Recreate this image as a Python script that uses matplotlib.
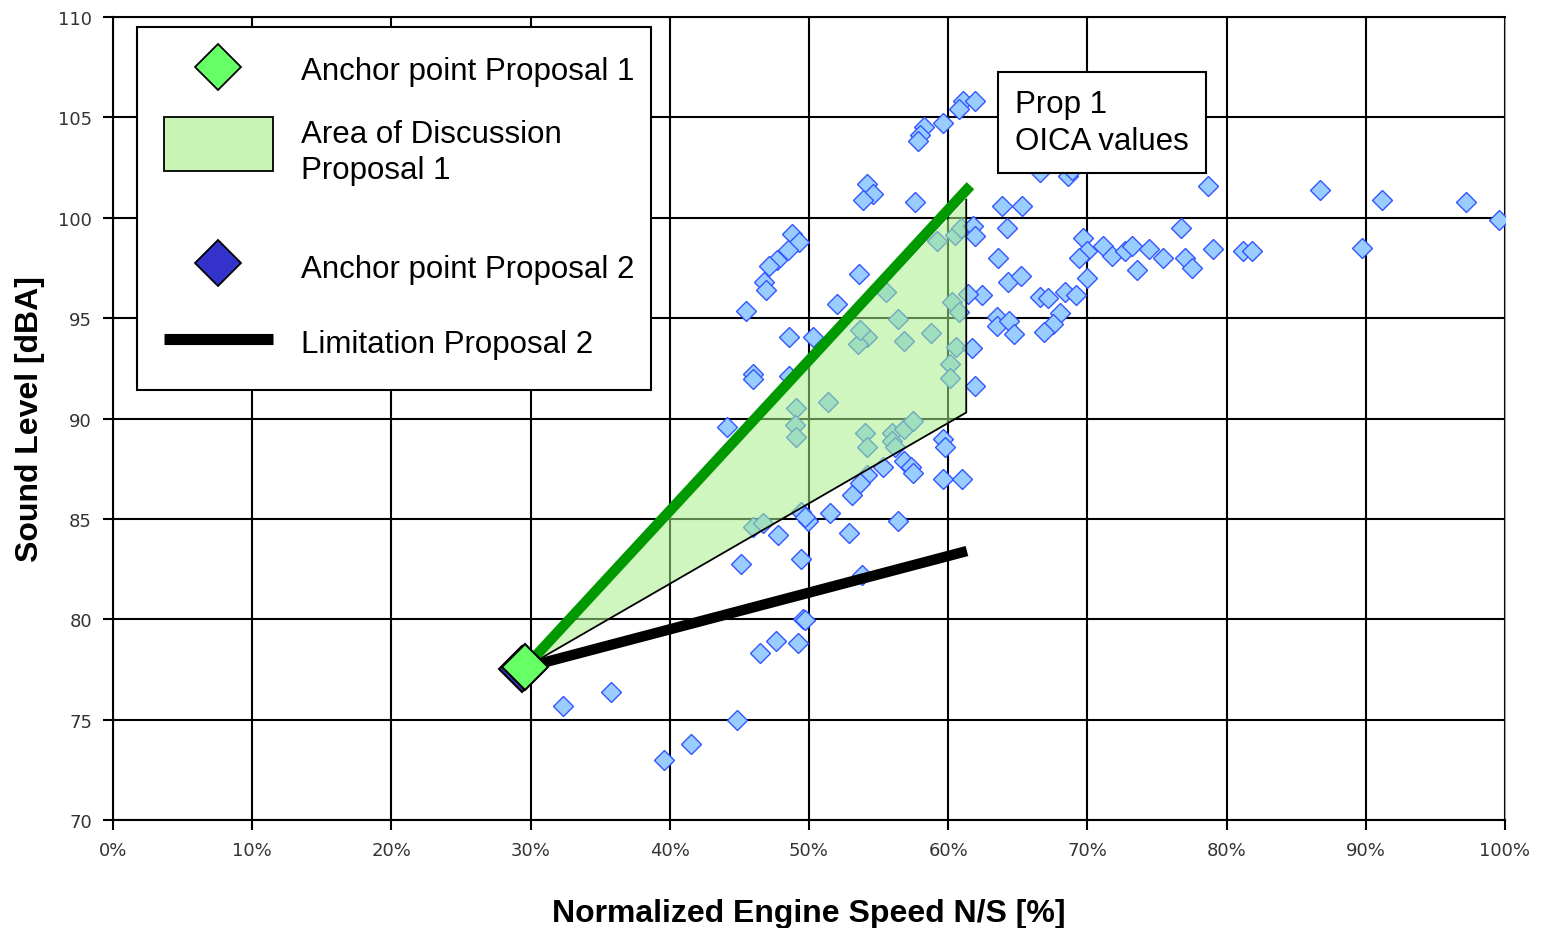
import matplotlib
matplotlib.use("Agg")
import matplotlib.pyplot as plt
from matplotlib.patches import Polygon, Rectangle
from matplotlib.lines import Line2D
from matplotlib.ticker import FuncFormatter

plt.rcParams['font.family'] = ['Liberation Sans', 'DejaVu Sans']

# measured vehicles: normalized engine speed [%] and sound level [dBA]
speed = [32.3, 35.8, 39.6, 41.5, 44.8, 46.5, 47.6, 49.2, 49.6, 49.7, 49.4, 45.1,
         47.8, 52.9, 56.4, 51.5, 49.9, 49.4, 49.7, 46.0, 46.7, 53.8,
         48.6, 50.3, 46.0, 46.0, 48.6, 44.1, 49.1, 49.0, 49.1, 51.4, 54.0, 54.2,
         56.0, 56.8, 57.5, 56.0, 56.2, 56.8, 57.3, 57.5, 55.3, 54.2, 53.7, 53.1,
         59.6, 59.8, 59.6, 61.0, 61.9, 60.1, 60.1, 60.6, 61.7, 58.8, 56.8, 54.2,
         53.5, 53.7,
         61.1, 61.9, 60.8, 59.6, 58.3, 58.0, 57.8, 54.2, 54.6, 53.9, 57.6, 48.8,
         49.3, 48.5, 47.7, 47.1, 46.8, 46.9, 45.5, 52.0, 53.6, 55.5, 56.4, 59.2,
         60.5, 60.9, 61.8, 61.9, 63.9, 63.6, 62.4, 61.4, 60.3, 60.8, 63.5, 63.5,
         78.7, 65.3, 64.2, 64.3, 65.2, 69.7, 70.0, 69.4, 71.1, 71.8, 72.7, 73.2,
         74.4, 73.6, 75.4, 76.7, 77.0, 77.5, 79.0, 81.2, 81.8, 70.0, 66.6, 67.2,
         68.4, 69.2, 64.4, 64.7, 68.0, 67.5, 66.9, 66.6, 68.6, 68.9, 86.7, 91.2,
         97.2, 99.6, 89.7]
level = [75.7, 76.4, 73.0, 73.8, 75.0, 78.3, 78.9, 78.8, 80.0, 79.95, 83.0, 82.75,
         84.2, 84.3, 84.9, 85.3, 84.9, 85.35, 85.1, 84.6, 84.8, 82.2,
         94.05, 94.05, 92.2, 91.97, 92.1, 89.6, 90.5, 89.7, 89.1, 90.8, 89.3, 88.6,
         89.3, 89.5, 89.9, 88.9, 88.6, 87.9, 87.6, 87.3, 87.6, 87.2, 86.8, 86.2,
         89.0, 88.6, 87.0, 87.0, 91.6, 92.7, 92.0, 93.55, 93.5, 94.25, 93.85, 94.05,
         93.7, 94.4,
         105.8, 105.8, 105.4, 104.7, 104.5, 104.1, 103.8, 101.7, 101.2, 100.9, 100.8, 99.2,
         98.8, 98.4, 97.9, 97.6, 96.8, 96.4, 95.35, 95.7, 97.2, 96.3, 94.95, 98.85,
         99.15, 99.5, 99.6, 99.1, 100.6, 98.0, 96.15, 96.2, 95.8, 95.3, 95.05, 94.6,
         101.6, 100.6, 99.5, 96.8, 97.1, 99.0, 98.35, 98.0, 98.6, 98.1, 98.35, 98.6,
         98.45, 97.4, 98.0, 99.5, 98.0, 97.5, 98.45, 98.35, 98.35, 97.0, 96.05, 96.0,
         96.3, 96.15, 94.85, 94.2, 95.25, 94.7, 94.3, 102.3, 102.1, 102.4, 101.4, 100.9,
         100.8, 99.9, 98.5]

anchor1 = (29.6, 77.6)
anchor2 = (29.4, 77.5)
area_x = [29.6, 61.3, 61.3, 29.6]
area_y = [77.6, 100.9, 90.3, 77.6]
prop1_line_x = [29.6, 61.6]
prop1_line_y = [77.6, 101.6]
limit2_x = [29.6, 61.35]
limit2_y = [77.6, 83.4]

fig = plt.figure(figsize=(15.41, 9.29), dpi=100)
ax = fig.add_axes([0.0733, 0.1162, 0.9033, 0.8644])

ax.set_xlim(0, 100)
ax.set_ylim(70, 110)
ax.set_xticks(range(0, 101, 10))
ax.set_yticks(range(70, 111, 5))
ax.xaxis.set_major_formatter(FuncFormatter(lambda v, p: "{:d}%".format(int(v))))
ax.grid(True, color='black', linewidth=1.5)
ax.set_axisbelow(True)
for side in ['left', 'bottom', 'top']:
    ax.spines[side].set_color('black')
    ax.spines[side].set_linewidth(1.5)
ax.spines['right'].set_color('#a0a0a0')
ax.tick_params(direction='out', length=7, width=1.5, labelsize=13,
               labelcolor='#333333', pad=8)
for lab in ax.get_xticklabels() + ax.get_yticklabels():
    lab.set_family('DejaVu Sans')

ax.plot(speed, level, linestyle='none', marker='D', markersize=10,
        markerfacecolor='#99ccff', markeredgecolor='#3355ff', markeredgewidth=1, zorder=3)

area = Polygon(list(zip(area_x, area_y)), closed=True, facecolor='#a6f08a',
               alpha=0.55, edgecolor='none', zorder=4)
ax.add_patch(area)
ax.plot(area_x[1:], area_y[1:], color='black', linewidth=1.3, zorder=5)

ax.plot(prop1_line_x, prop1_line_y, color='#009900', linewidth=7.5,
        solid_capstyle='butt', zorder=6)
ax.plot(limit2_x, limit2_y, color='black', linewidth=7.5,
        solid_capstyle='butt', zorder=6)

ax.plot(*anchor2, marker='D', markersize=23, markerfacecolor='#3333cc',
        markeredgecolor='black', markeredgewidth=1.5, zorder=7)
ax.plot(*anchor1, marker='D', markersize=23, markerfacecolor='#66ff66',
        markeredgecolor='black', markeredgewidth=1.5, zorder=8)

ax.set_xlabel('Normalized Engine Speed N/S [%]', fontsize=23, fontweight='bold', labelpad=28)
ax.set_ylabel('Sound Level [dBA]', fontsize=23, fontweight='bold', labelpad=9)

# legend drawn by hand to keep the uneven row spacing of the original
tr = ax.transAxes
ax.add_patch(Rectangle((0.0172, 0.5355), 0.3693, 0.452, transform=tr, facecolor='white',
                       edgecolor='black', linewidth=1.5, zorder=9))
kx = (218 - 113) / 1392
tx = (301 - 113) / 1392
def ay(py):
    return (821 - py) / 803
ax.add_line(Line2D([kx], [ay(68)], transform=tr, marker='D', markersize=23,
                   markerfacecolor='#66ff66', markeredgecolor='black', markeredgewidth=1.3, zorder=10))
ax.add_patch(Rectangle(((164 - 113) / 1392, ay(172)), 109 / 1392, 54 / 803, transform=tr,
                       facecolor='#c8f5b4', edgecolor='black', linewidth=1.3, zorder=10))
ax.add_line(Line2D([kx], [ay(264)], transform=tr, marker='D', markersize=23,
                   markerfacecolor='#3333cc', markeredgecolor='black', markeredgewidth=1.3, zorder=10))
ax.add_line(Line2D([(164 - 113) / 1392, (273 - 113) / 1392], [ay(340), ay(340)], transform=tr,
                   color='black', linewidth=8, solid_capstyle='butt', zorder=10))
legend_texts = [("Anchor point Proposal 1", 72), ("Area of Discussion\nProposal 1", 153),
                ("Anchor point Proposal 2", 270), ("Limitation Proposal 2", 345)]
for txt, py in legend_texts:
    ax.text(tx, ay(py), txt, transform=tr, fontsize=22.5, va='center', ha='left',
            linespacing=1.3, zorder=11)

ax.text(64.8, 104.75, "Prop 1\nOICA values", fontsize=22.5, va='center', ha='left',
        linespacing=1.3, zorder=11,
        bbox=dict(boxstyle='square,pad=0.55', facecolor='white', edgecolor='black', linewidth=1.5))

plt.savefig("out.png", dpi=100)
plt.close()
